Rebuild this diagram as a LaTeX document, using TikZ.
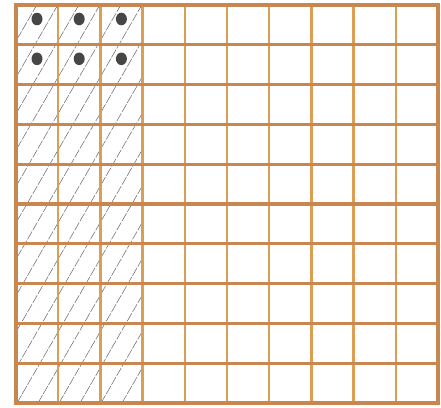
\documentclass[tikz,border=0pt]{standalone}
\usepackage{tikz}
\definecolor{hline}{RGB}{200,134,80}
\definecolor{vline}{RGB}{220,158,82}
\definecolor{dotc}{RGB}{72,70,68}
\definecolor{hatchc}{RGB}{100,100,100}
\tikzset{
  hgrid/.style={draw=hline, line width=3.3pt},
  vgrid/.style={draw=vline, line width=2.4pt},
  hatchline/.style={draw=hatchc, line width=0.5pt, dash pattern=on 9pt off 1.5pt},
  dotmark/.style={fill=dotc, draw=none}
}
\begin{document}
\begin{tikzpicture}[x=1pt,y=-1pt]
\useasboundingbox (0,0) rectangle (441,407);
\fill[white] (0,0) rectangle (441,407);
% hatching in first three columns
\begin{scope}
  \clip (16,5) rectangle (142.6,403);
  \foreach \i in {0,...,18} {
    \pgfmathsetmacro{\xa}{-214+21*\i}
    \draw[hatchline] (\xa,403) -- ({\xa+229.8},5);
  }
\end{scope}
% dots
\foreach \c in {0,1,2} {
  \foreach \r in {0,1} {
    \fill[dotmark] ({37+42.2*\c},{19+39.8*\r}) ellipse (5.5pt and 6.3pt);
  }
}
% vertical grid lines
\foreach \i in {1,...,9} {
  \draw[vgrid] ({16+42.2*\i},5) -- ({16+42.2*\i},403);
}
% horizontal grid lines
\foreach \j in {1,...,9} {
  \draw[hgrid] (16,{5+39.8*\j}) -- (438,{5+39.8*\j});
}
% outer border
\draw[hgrid] (16,5) rectangle (438,403);
\end{tikzpicture}
\end{document}
